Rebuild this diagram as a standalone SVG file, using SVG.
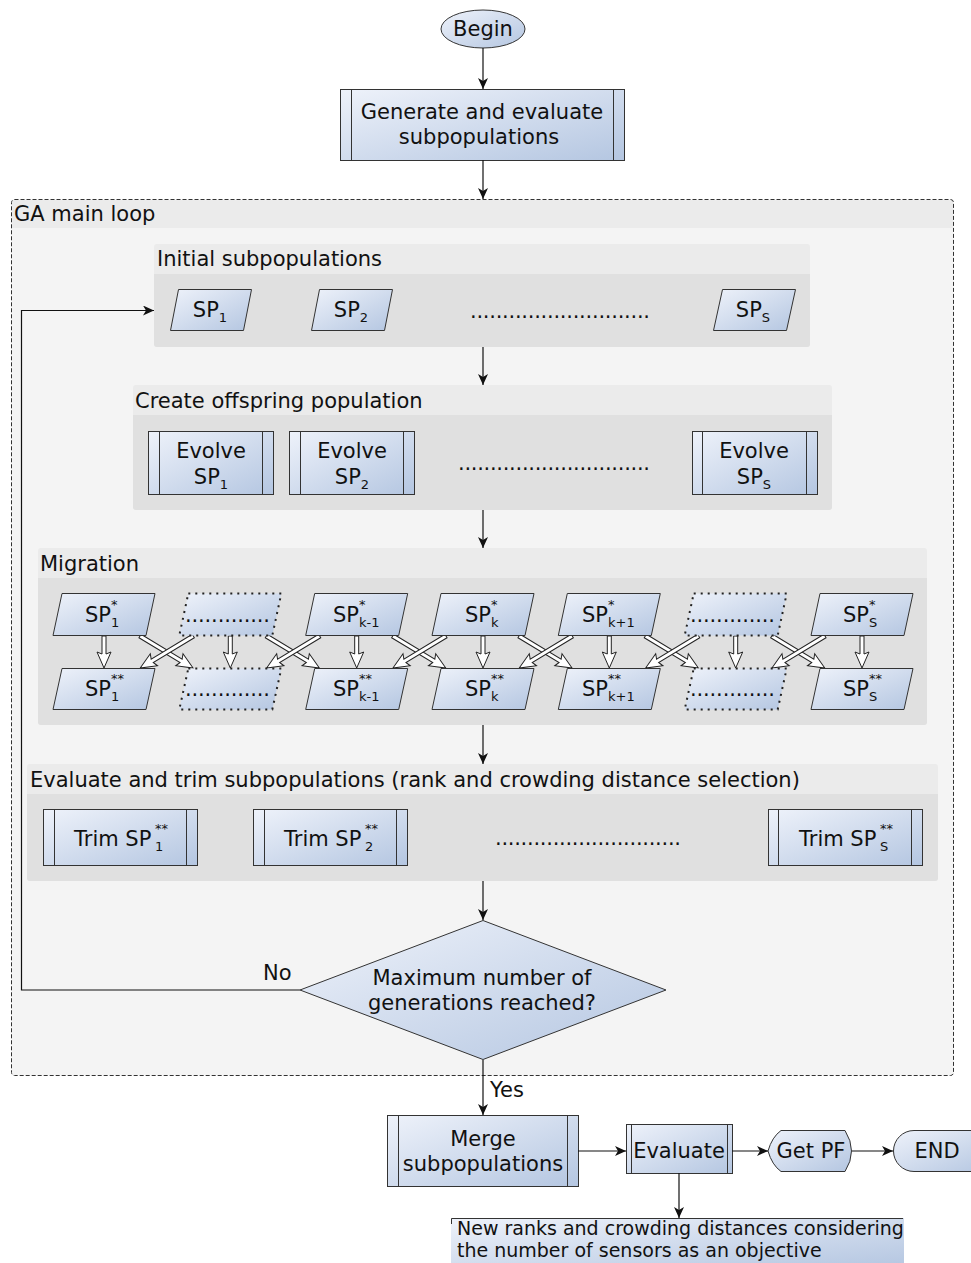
<svg xmlns="http://www.w3.org/2000/svg" xmlns:xlink="http://www.w3.org/1999/xlink" width="971" height="1263" viewBox="0 0 971 1263">
  <style>
    text { font-family: "DejaVu Sans", "Liberation Sans", sans-serif; font-size: 21px; fill: #111; }
    .mid { text-anchor: middle; }
    .sm { font-size: 13px; }
    .note { font-size: 19px; }
    .shape { fill: url(#fillg); stroke: #333; stroke-width: 1; }
    .ghost { fill: url(#fillg); stroke: #222; stroke-width: 2; stroke-dasharray: 2 5; }
    .bar { stroke: #333; stroke-width: 1; }
    .hdr { fill: #ebebeb; }
    .body { fill: #e0e0e0; }
    .conn { fill: none; stroke: #111; stroke-width: 1.2; marker-end: url(#ah); }
    .mig { fill: #fff; stroke: #222; stroke-width: 1; }
  </style>
  <defs>
    <linearGradient id="fillg" x1="0" y1="0" x2="1" y2="1">
      <stop offset="0" stop-color="#eef2fa"/>
      <stop offset="1" stop-color="#b4c6e1"/>
    </linearGradient>
    <marker id="ah" markerUnits="userSpaceOnUse" markerWidth="12" markerHeight="10" refX="11" refY="5" orient="auto">
      <path d="M0,0 L11,5 L0,10 L3,5 Z" fill="#111"/>
    </marker>
    <!-- hollow migration arrows: vertical (32 long) and diagonal (62 long) -->
    <path id="hv" d="M-2,0 V18 L-7,16 L0,32 L7,16 L2,18 V0 Z"/>
    <path id="hd" d="M0,-2 H48 L46,-7 L62,0 L46,7 L48,2 H0 Z"/>
  </defs>

  <!-- outer loop container -->
  <g id="ga-main-loop">
    <rect x="11.5" y="199.5" width="942" height="876" rx="3" fill="#f4f4f4"/>
    <rect x="12" y="200" width="941" height="28" fill="#ebebeb"/>
    <rect x="11.5" y="199.5" width="942" height="876" rx="3" fill="none" stroke="#333" stroke-width="1" stroke-dasharray="4 2"/>
    <text x="14" y="221">GA main loop</text>
  </g>

  <g id="begin">
    <ellipse cx="483" cy="29" rx="42" ry="19" class="shape"/>
    <text x="483" y="36" class="mid">Begin</text>
  </g>

  <g id="generate">
    <rect x="340.5" y="89.5" width="284" height="71" class="shape"/>
    <line x1="351.5" y1="89.5" x2="351.5" y2="160.5" class="bar"/>
    <line x1="613.5" y1="89.5" x2="613.5" y2="160.5" class="bar"/>
    <text x="482" y="119" class="mid">Generate and evaluate</text>
    <text x="479" y="144" class="mid">subpopulations</text>
  </g>

  <!-- initial subpopulations -->
  <g id="initial">
    <rect x="154" y="244" width="656" height="103" rx="3" class="hdr"/>
    <path d="M154,274 H810 V344 Q810,347 807,347 H157 Q154,347 154,344 Z" class="body"/>
    <text x="157" y="266">Initial subpopulations</text>
  </g>
  <g id="sp1">
    <polygon points="178.5,289.5 251.5,289.5 243.5,330.5 170.5,330.5" class="shape"/>
    <text x="210" y="317" class="mid">SP<tspan class="sm" dy="5">1</tspan></text>
  </g>
  <g id="sp2">
    <polygon points="319.5,289.5 392.5,289.5 384.5,330.5 311.5,330.5" class="shape"/>
    <text x="351" y="317" class="mid">SP<tspan class="sm" dy="5">2</tspan></text>
  </g>
  <g id="sp-gap">
    <text x="470" y="318" textLength="180" lengthAdjust="spacing">............................</text>
  </g>
  <g id="sps">
    <polygon points="722.5,289.5 795.5,289.5 786.5,330.5 713.5,330.5" class="shape"/>
    <text x="753" y="317" class="mid">SP<tspan class="sm" dy="5">S</tspan></text>
  </g>

  <!-- offspring creation -->
  <g id="offspring">
    <rect x="133" y="385" width="699" height="125" rx="3" class="hdr"/>
    <path d="M133,415 H832 V507 Q832,510 829,510 H136 Q133,510 133,507 Z" class="body"/>
    <text x="135" y="408">Create offspring population</text>
  </g>
  <g id="evolve1">
    <rect x="148.5" y="431.5" width="125" height="63" class="shape"/>
    <line x1="159.5" y1="431.5" x2="159.5" y2="494.5" class="bar"/>
    <line x1="262.5" y1="431.5" x2="262.5" y2="494.5" class="bar"/>
    <text x="211" y="458" class="mid">Evolve</text>
    <text x="211" y="484" class="mid">SP<tspan class="sm" dy="5">1</tspan></text>
  </g>
  <g id="evolve2">
    <rect x="289.5" y="431.5" width="125" height="63" class="shape"/>
    <line x1="300.5" y1="431.5" x2="300.5" y2="494.5" class="bar"/>
    <line x1="403.5" y1="431.5" x2="403.5" y2="494.5" class="bar"/>
    <text x="352" y="458" class="mid">Evolve</text>
    <text x="352" y="484" class="mid">SP<tspan class="sm" dy="5">2</tspan></text>
  </g>
  <g id="evolve-gap">
    <text x="458" y="470" textLength="192" lengthAdjust="spacing">..............................</text>
  </g>
  <g id="evolves">
    <rect x="692.5" y="431.5" width="125" height="63" class="shape"/>
    <line x1="702.5" y1="431.5" x2="702.5" y2="494.5" class="bar"/>
    <line x1="806.5" y1="431.5" x2="806.5" y2="494.5" class="bar"/>
    <text x="754" y="458" class="mid">Evolve</text>
    <text x="754" y="484" class="mid">SP<tspan class="sm" dy="5">S</tspan></text>
  </g>

  <!-- migration -->
  <g id="migration">
    <rect x="38" y="548" width="889" height="177" rx="3" class="hdr"/>
    <path d="M38,578 H927 V722 Q927,725 924,725 H41 Q38,725 38,722 Z" class="body"/>
    <text x="40" y="571">Migration</text>
  </g>

  <g id="mig-arrows">
    <use xlink:href="#hv" href="#hv" class="mig" x="104" y="636"/>
    <use xlink:href="#hv" href="#hv" class="mig" x="230.3" y="636"/>
    <use xlink:href="#hv" href="#hv" class="mig" x="356.7" y="636"/>
    <use xlink:href="#hv" href="#hv" class="mig" x="483" y="636"/>
    <use xlink:href="#hv" href="#hv" class="mig" x="609.3" y="636"/>
    <use xlink:href="#hv" href="#hv" class="mig" x="735.7" y="636"/>
    <use xlink:href="#hv" href="#hv" class="mig" x="862" y="636"/>

    <use xlink:href="#hd" href="#hd" class="mig" transform="translate(140,636) rotate(31.1)"/>
    <use xlink:href="#hd" href="#hd" class="mig" transform="translate(193.3,636) rotate(148.9)"/>
    <use xlink:href="#hd" href="#hd" class="mig" transform="translate(266.3,636) rotate(31.1)"/>
    <use xlink:href="#hd" href="#hd" class="mig" transform="translate(319.7,636) rotate(148.9)"/>
    <use xlink:href="#hd" href="#hd" class="mig" transform="translate(392.7,636) rotate(31.1)"/>
    <use xlink:href="#hd" href="#hd" class="mig" transform="translate(446,636) rotate(148.9)"/>
    <use xlink:href="#hd" href="#hd" class="mig" transform="translate(519,636) rotate(31.1)"/>
    <use xlink:href="#hd" href="#hd" class="mig" transform="translate(572.3,636) rotate(148.9)"/>
    <use xlink:href="#hd" href="#hd" class="mig" transform="translate(645.3,636) rotate(31.1)"/>
    <use xlink:href="#hd" href="#hd" class="mig" transform="translate(698.7,636) rotate(148.9)"/>
    <use xlink:href="#hd" href="#hd" class="mig" transform="translate(771.7,636) rotate(31.1)"/>
    <use xlink:href="#hd" href="#hd" class="mig" transform="translate(825,636) rotate(148.9)"/>
  </g>

  <!-- top row: SP* -->
  <g id="spx1">
    <polygon points="62,593.5 155,593.5 146,635.5 53,635.5" class="shape"/>
    <text x="85" y="622">SP</text><text x="111" y="609" class="sm">*</text><text x="111" y="627" class="sm">1</text>
  </g>
  <g id="spx-gap-a">
    <polygon points="188.3,593.5 281.3,593.5 272.3,635.5 179.3,635.5" class="ghost"/>
    <text x="185" y="622" textLength="85" lengthAdjust="spacing">.............</text>
  </g>
  <g id="spxk-1">
    <polygon points="314.7,593.5 407.7,593.5 398.7,635.5 305.7,635.5" class="shape"/>
    <text x="333" y="622">SP</text><text x="359" y="609" class="sm">*</text><text x="359" y="627" class="sm">k-1</text>
  </g>
  <g id="spxk">
    <polygon points="441,593.5 534,593.5 525,635.5 432,635.5" class="shape"/>
    <text x="465" y="622">SP</text><text x="491" y="609" class="sm">*</text><text x="491" y="627" class="sm">k</text>
  </g>
  <g id="spxk+1">
    <polygon points="567.3,593.5 660.3,593.5 651.3,635.5 558.3,635.5" class="shape"/>
    <text x="582" y="622">SP</text><text x="608" y="609" class="sm">*</text><text x="608" y="627" class="sm">k+1</text>
  </g>
  <g id="spx-gap-b">
    <polygon points="693.7,593.5 786.7,593.5 777.7,635.5 684.7,635.5" class="ghost"/>
    <text x="690" y="622" textLength="85" lengthAdjust="spacing">.............</text>
  </g>
  <g id="spxs">
    <polygon points="820,593.5 913,593.5 904,635.5 811,635.5" class="shape"/>
    <text x="843" y="622">SP</text><text x="869" y="609" class="sm">*</text><text x="869" y="627" class="sm">S</text>
  </g>

  <!-- bottom row: SP** -->
  <g id="spxx1">
    <polygon points="62,668.5 155,668.5 146,709.5 53,709.5" class="shape"/>
    <text x="85" y="696">SP</text><text x="111" y="683" class="sm">**</text><text x="111" y="701" class="sm">1</text>
  </g>
  <g id="spxx-gap-a">
    <polygon points="188.3,668.5 281.3,668.5 272.3,709.5 179.3,709.5" class="ghost"/>
    <text x="185" y="696" textLength="85" lengthAdjust="spacing">.............</text>
  </g>
  <g id="spxxk-1">
    <polygon points="314.7,668.5 407.7,668.5 398.7,709.5 305.7,709.5" class="shape"/>
    <text x="333" y="696">SP</text><text x="359" y="683" class="sm">**</text><text x="359" y="701" class="sm">k-1</text>
  </g>
  <g id="spxxk">
    <polygon points="441,668.5 534,668.5 525,709.5 432,709.5" class="shape"/>
    <text x="465" y="696">SP</text><text x="491" y="683" class="sm">**</text><text x="491" y="701" class="sm">k</text>
  </g>
  <g id="spxxk+1">
    <polygon points="567.3,668.5 660.3,668.5 651.3,709.5 558.3,709.5" class="shape"/>
    <text x="582" y="696">SP</text><text x="608" y="683" class="sm">**</text><text x="608" y="701" class="sm">k+1</text>
  </g>
  <g id="spxx-gap-b">
    <polygon points="693.7,668.5 786.7,668.5 777.7,709.5 684.7,709.5" class="ghost"/>
    <text x="690" y="696" textLength="85" lengthAdjust="spacing">.............</text>
  </g>
  <g id="spxxs">
    <polygon points="820,668.5 913,668.5 904,709.5 811,709.5" class="shape"/>
    <text x="843" y="696">SP</text><text x="869" y="683" class="sm">**</text><text x="869" y="701" class="sm">S</text>
  </g>

  <!-- evaluation and trimming -->
  <g id="trim-stage">
    <rect x="27" y="764" width="911" height="117" rx="3" class="hdr"/>
    <path d="M27,794 H938 V878 Q938,881 935,881 H30 Q27,881 27,878 Z" class="body"/>
    <text x="30" y="787">Evaluate and trim subpopulations (rank and crowding distance selection)</text>
  </g>
  <g id="trim1">
    <rect x="43.5" y="809.5" width="154" height="56" class="shape"/>
    <line x1="54.5" y1="809.5" x2="54.5" y2="865.5" class="bar"/>
    <line x1="186.5" y1="809.5" x2="186.5" y2="865.5" class="bar"/>
    <text x="74" y="846">Trim SP</text><text x="155" y="833" class="sm">**</text><text x="155" y="851" class="sm">1</text>
  </g>
  <g id="trim2">
    <rect x="253.5" y="809.5" width="154" height="56" class="shape"/>
    <line x1="264.5" y1="809.5" x2="264.5" y2="865.5" class="bar"/>
    <line x1="396.5" y1="809.5" x2="396.5" y2="865.5" class="bar"/>
    <text x="284" y="846">Trim SP</text><text x="365" y="833" class="sm">**</text><text x="365" y="851" class="sm">2</text>
  </g>
  <g id="trim-gap">
    <text x="495" y="845" textLength="186" lengthAdjust="spacing">.............................</text>
  </g>
  <g id="trims">
    <rect x="768.5" y="809.5" width="154" height="56" class="shape"/>
    <line x1="778.5" y1="809.5" x2="778.5" y2="865.5" class="bar"/>
    <line x1="911.5" y1="809.5" x2="911.5" y2="865.5" class="bar"/>
    <text x="799" y="846">Trim SP</text><text x="880" y="833" class="sm">**</text><text x="880" y="851" class="sm">S</text>
  </g>

  <g id="decision">
    <polygon points="483,920.5 666,990 483,1059.5 300,990" class="shape"/>
    <text x="482" y="985" class="mid">Maximum number of</text>
    <text x="482" y="1010" class="mid">generations reached?</text>
  </g>

  <g id="merge">
    <rect x="387.5" y="1115.5" width="191" height="71" class="shape"/>
    <line x1="398.5" y1="1115.5" x2="398.5" y2="1186.5" class="bar"/>
    <line x1="567.5" y1="1115.5" x2="567.5" y2="1186.5" class="bar"/>
    <text x="483" y="1146" class="mid">Merge</text>
    <text x="483" y="1171" class="mid">subpopulations</text>
  </g>

  <g id="evaluate">
    <rect x="626.5" y="1124.5" width="106" height="49" class="shape"/>
    <line x1="631.5" y1="1124.5" x2="631.5" y2="1173.5" class="bar"/>
    <line x1="727.5" y1="1124.5" x2="727.5" y2="1173.5" class="bar"/>
    <text x="679" y="1158" class="mid">Evaluate</text>
  </g>

  <g id="get-pf">
    <path d="M768,1151 Q772,1137 781,1130.5 H845 Q858,1151 845,1171.5 H781 Q772,1165 768,1151 Z" class="shape"/>
    <text x="811" y="1158" class="mid">Get PF</text>
  </g>

  <g id="end">
    <rect x="893.5" y="1130.5" width="100" height="41" rx="20.5" class="shape"/>
    <text x="937" y="1158" class="mid">END</text>
  </g>

  <g id="note">
    <rect x="451" y="1218" width="453" height="50" fill="url(#fillg)"/>
    <path d="M451.5,1224 V1218.5 H903" fill="none" stroke="#333" stroke-width="1"/>
    <text x="457" y="1235" class="note">New ranks and crowding distances considering</text>
    <text x="457" y="1257" class="note">the number of sensors as an objective</text>
  </g>

  <!-- flow connectors -->
  <g id="connectors">
    <path d="M483,48 V89" class="conn"/>
    <path d="M483,160 V199" class="conn"/>
    <path d="M483,347 V385" class="conn"/>
    <path d="M483,510 V548" class="conn"/>
    <path d="M483,725 V764" class="conn"/>
    <path d="M483,881 V920" class="conn"/>
    <path d="M300,990 H21.5 V310.5 H154" class="conn"/>
    <path d="M483,1060 V1115" class="conn"/>
    <path d="M578,1151 H626" class="conn"/>
    <path d="M732,1151 H768" class="conn"/>
    <path d="M852,1151 H893" class="conn"/>
    <path d="M679,1173 V1218" class="conn"/>
    <text x="263" y="980">No</text>
    <text x="490" y="1097">Yes</text>
  </g>
</svg>
